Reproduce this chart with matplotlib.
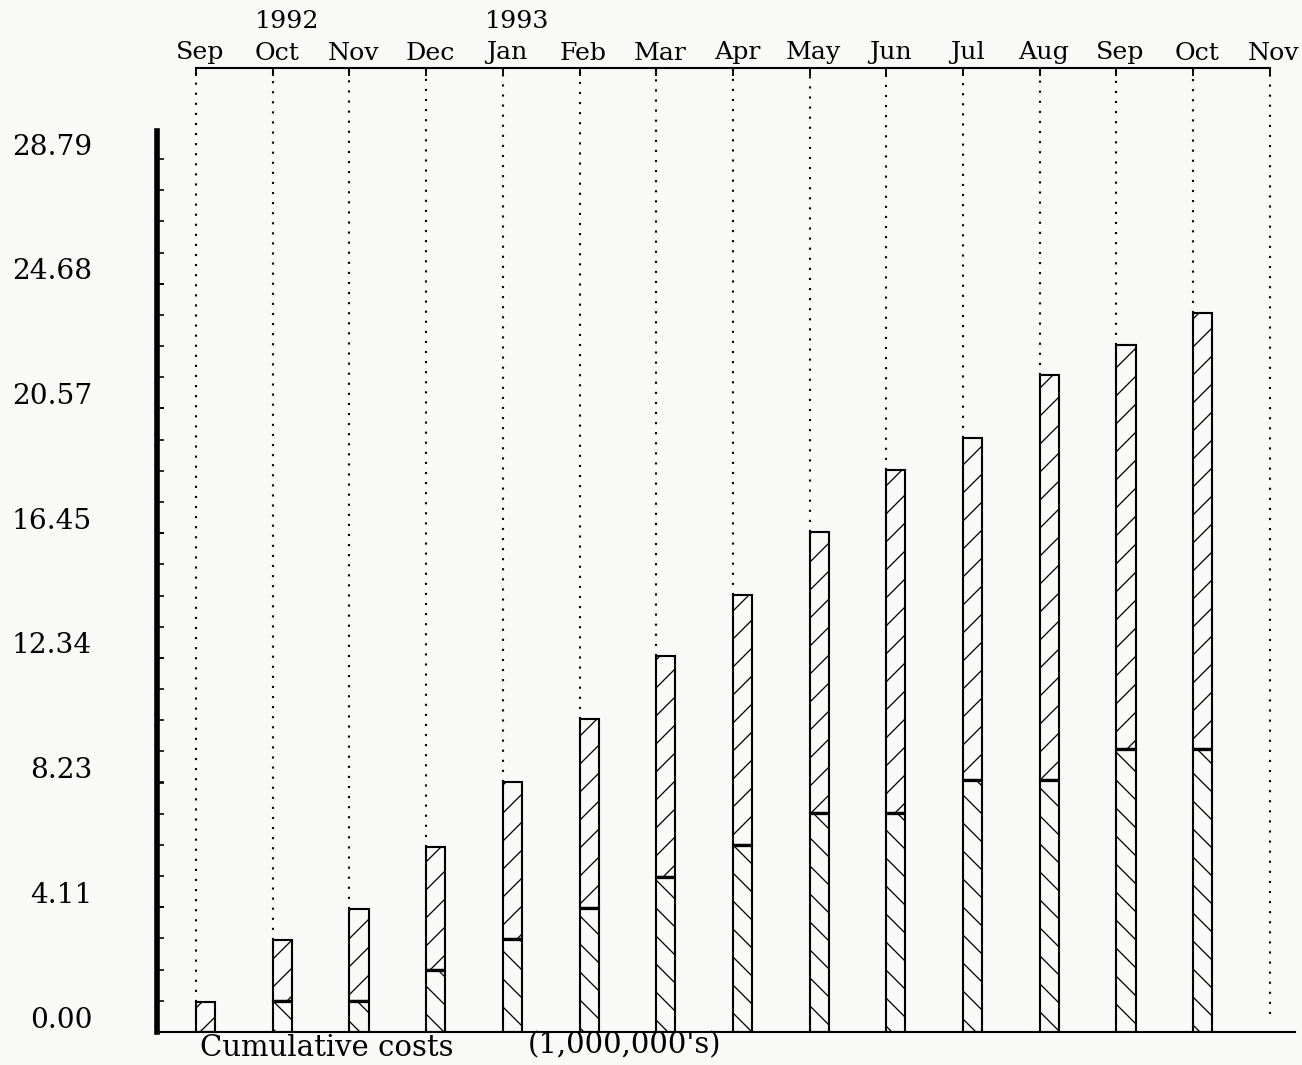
#!/usr/bin/env python3
"""Cumulative costs, Sep 1992 - Nov 1993: stacked hatched bars in old plotter style."""

import numpy as np
import matplotlib
matplotlib.use('Agg')
import matplotlib.pyplot as plt
from matplotlib.transforms import ScaledTranslation

# hatch spacing in matplotlib is tied to dpi; 168 with doubled hatch chars
# gives the wide plotter hatching (~28 px between lines)
DPI = 168
W_PX, H_PX = 1302, 1065

months = ['Sep', 'Oct', 'Nov', 'Dec', 'Jan', 'Feb', 'Mar', 'Apr',
          'May', 'Jun', 'Jul', 'Aug', 'Sep', 'Oct', 'Nov']
year_labels = ['1992', '1993']
year_months = [1, 4]          # index of the month each year label sits over

# millions of dollars
lower = [0.00, 1.02, 1.02, 2.04, 3.07, 4.09, 5.11, 6.17, 7.22, 7.22,
         8.31, 8.31, 9.33, 9.33]
total = [0.99, 3.03, 4.06, 6.10, 8.25, 10.32, 12.40, 14.41, 16.49, 18.54,
         19.60, 21.67, 22.66, 23.71]

ytick_labels = ['0.00', '4.11', '8.23', '12.34', '16.45', '20.57', '24.68', '28.79']
Y_MAX = 28.79

plt.rcParams['font.family'] = ['DejaVu Serif']
plt.rcParams['hatch.linewidth'] = 0.55

fig = plt.figure(figsize=(W_PX / DPI, H_PX / DPI), dpi=DPI)
fig.patch.set_facecolor('#f9f9f8')

# axes box in pixels: left axis at x=157, baseline at y=1032, top axis at y=68
ax = fig.add_axes([157 / W_PX, (H_PX - 1032) / H_PX,
                   (1295 - 157) / W_PX, (1032 - 68) / H_PX])
ax.set_facecolor('none')

month_px, month_step = 196, 76.7
ax.set_xlim((157 - month_px) / month_step, (1295 - month_px) / month_step)
ax.set_ylim(0, (1032 - 68) / 30.32)
y_top = ax.get_ylim()[1]

x = np.arange(len(total))
lower = np.array(lower)
total = np.array(total)

# dotted month guides from each bar top up to the top axis
guide_bottom = np.append(total, 0.6)
ax.vlines(np.arange(len(months)), guide_bottom, y_top, colors='black',
          linewidth=0.9, linestyles=(0, (1, 3.8)), zorder=1)

bar_w = 0.25
ax.bar(x, lower, width=bar_w, align='edge', facecolor='none',
       edgecolor='black', linewidth=0.9, hatch='\\\\', zorder=2)
ax.bar(x, total - lower, bottom=lower, width=bar_w, align='edge',
       facecolor='none', edgecolor='black', linewidth=0.9, hatch='//', zorder=2)
# heavier line where the two segments meet
ax.hlines(lower[lower > 0], x[lower > 0], x[lower > 0] + bar_w,
          colors='black', linewidth=1.4, zorder=3)

# spines
ax.spines['right'].set_visible(False)
ax.spines['left'].set_linewidth(2.4)
ax.spines['left'].set_bounds(0, 29.7)
ax.spines['top'].set_linewidth(0.9)
ax.spines['top'].set_bounds(0, len(months) - 1)
ax.spines['bottom'].set_linewidth(0.9)

# month axis on top
ax.xaxis.tick_top()
ax.set_xticks(np.arange(len(months)), months)
ax.tick_params(axis='x', direction='in', length=3.5, width=0.8, pad=1.5,
               labelsize=10.8, bottom=False)
shift_x = ScaledTranslation(4 / DPI, 0, fig.dpi_scale_trans)
for lab in ax.get_xticklabels():
    lab.set_transform(lab.get_transform() + shift_x)

for yl, m in zip(year_labels, year_months):
    ax.annotate(yl, xy=(m, 1), xycoords=('data', 'axes fraction'),
                xytext=(14, 47), textcoords='offset pixels',
                ha='center', va='center', fontsize=10.8)

# value axis
ax.set_yticks([float(s) for s in ytick_labels], ytick_labels)
ax.set_yticks(np.linspace(0, Y_MAX, 29), minor=True)
ax.tick_params(axis='y', which='both', direction='in', length=3, width=0.7)
ax.tick_params(axis='y', which='major', labelsize=12, pad=27.8)
shift_y = ScaledTranslation(0, 15 / DPI, fig.dpi_scale_trans)
for lab in ax.get_yticklabels():
    lab.set_transform(lab.get_transform() + shift_y)

fig.text(200 / W_PX, 1 - 1048 / H_PX, 'Cumulative costs',
         ha='left', va='center', fontsize=12.5)
fig.text(528 / W_PX, 1 - 1045 / H_PX, "(1,000,000's)",
         ha='left', va='center', fontsize=12.5)

fig.savefig('out.png', dpi=DPI, facecolor=fig.get_facecolor())
plt.close(fig)
